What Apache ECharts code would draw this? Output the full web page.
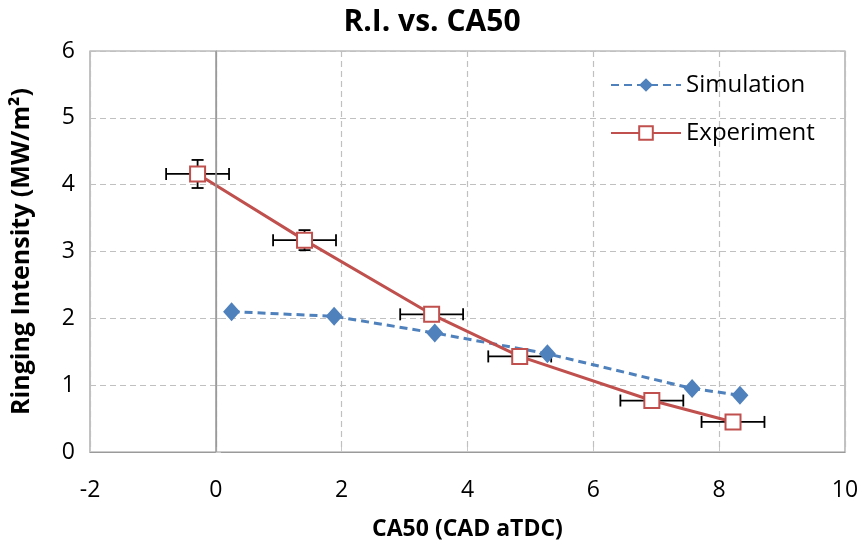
<!DOCTYPE html>
<html><head><meta charset="utf-8">
<script src="https://cdn.jsdelivr.net/npm/echarts@6/dist/echarts.min.js"></script>
<style>html,body{margin:0;padding:0;background:#fff}#c{width:864px;height:550px}</style>
</head><body><div id="c"></div>
<script>
var simX = [0.25, 1.88, 3.48, 5.27, 7.57, 8.33];
var simY = [2.10, 2.03, 1.78, 1.47, 0.95, 0.85];
var expX = [-0.29, 1.41, 3.43, 4.83, 6.93, 8.22];
var expY = [4.16, 3.17, 2.06, 1.43, 0.77, 0.45];
var expXErr = [0.5, 0.5, 0.5, 0.5, 0.5, 0.5];
var expYErr = [0.21, 0.15, 0.06, 0.06, 0.06, 0.06];
var xTicks = [-2, 0, 2, 4, 6, 8, 10];
var yTicks = [0, 1, 2, 3, 4, 5, 6];

var FONT = '"Open Sans", Lato, sans-serif';
var chart = echarts.init(document.getElementById('c'));
var errData = expX.map(function (x, i) { return [x, expY[i], expXErr[i], expYErr[i]]; });

function renderErr(params, api) {
  var x = api.value(0), y = api.value(1), ex = api.value(2), ey = api.value(3);
  var c = api.coord([x, y]);
  var l = api.coord([x - ex, y]), r = api.coord([x + ex, y]);
  var t = api.coord([x, y + ey]), b = api.coord([x, y - ey]);
  var cap = 6;
  var st = { stroke: '#000', lineWidth: 1.8 };
  return { type: 'group', children: [
    { type: 'line', shape: { x1: l[0], y1: c[1], x2: r[0], y2: c[1] }, style: st },
    { type: 'line', shape: { x1: l[0], y1: c[1] - cap, x2: l[0], y2: c[1] + cap }, style: st },
    { type: 'line', shape: { x1: r[0], y1: c[1] - cap, x2: r[0], y2: c[1] + cap }, style: st },
    { type: 'line', shape: { x1: c[0], y1: t[1], x2: c[0], y2: b[1] }, style: st },
    { type: 'line', shape: { x1: c[0] - cap, y1: t[1], x2: c[0] + cap, y2: t[1] }, style: st },
    { type: 'line', shape: { x1: c[0] - cap, y1: b[1], x2: c[0] + cap, y2: b[1] }, style: st }
  ]};
}

chart.setOption({
  animation: false,
  title: { text: 'R.I. vs. CA50', left: 'center', top: 2,
    textStyle: { fontFamily: FONT, fontWeight: 'bold', fontSize: 30, color: '#000' } },
  grid: { left: 90, right: 19, top: 51, bottom: 98, show: true, borderColor: '#9a9a9a', borderWidth: 1.2 },
  legend: {
    orient: 'vertical', left: 605, top: 68, itemGap: 24, itemWidth: 70, itemHeight: 17,
    textStyle: { fontFamily: FONT, fontSize: 24, color: '#000' },
    data: ['Simulation', 'Experiment']
  },
  xAxis: {
    type: 'value', min: -2, max: 10, interval: 2,
    name: 'CA50 (CAD aTDC)', nameLocation: 'middle', nameGap: 66,
    nameTextStyle: { fontFamily: FONT, fontWeight: 'bold', fontSize: 23, color: '#000' },
    axisLine: { show: true, onZero: false, lineStyle: { color: '#9a9a9a', width: 1.2 } },
    axisTick: { show: true, inside: true, length: 5, lineStyle: { color: '#c8c8c8' } },
    axisLabel: { fontFamily: FONT, fontSize: 23, color: '#000', margin: 27,
      formatter: function (v) { return xTicks.indexOf(v) >= 0 ? String(v) : ''; } },
    splitLine: { show: true, lineStyle: { color: '#c0c0c0', type: [6, 4], width: 1.2 } }
  },
  yAxis: {
    type: 'value', min: 0, max: 6, interval: 1,
    name: 'Ringing Intensity (MW/m²)', nameLocation: 'middle', nameGap: 56,
    nameTextStyle: { fontFamily: FONT, fontWeight: 'bold', fontSize: 25, color: '#000' },
    axisLine: { show: true, lineStyle: { color: '#9a9a9a', width: 1.2 } },
    axisTick: { show: true, inside: true, length: 5, lineStyle: { color: '#c8c8c8' } },
    axisLabel: { fontFamily: FONT, fontSize: 23, color: '#000', margin: 15,
      formatter: function (v) { return yTicks.indexOf(v) >= 0 ? String(v) : ''; } },
    splitLine: { show: true, lineStyle: { color: '#c0c0c0', type: [6, 4], width: 1.2 } }
  },
  series: [
    {
      name: 'zeroLine', type: 'line', data: [], silent: true,
      markLine: { silent: true, symbol: 'none', label: { show: false },
        lineStyle: { color: '#9a9a9a', type: 'solid', width: 1.5 },
        data: [{ xAxis: 0 }] }
    },
    {
      name: 'err', type: 'custom', renderItem: renderErr, data: errData, z: 1,
      encode: { x: 0, y: 1 }, silent: true
    },
    {
      name: 'Simulation', type: 'line', z: 3,
      data: simX.map(function (x, i) { return [x, simY[i]]; }),
      symbol: 'diamond', symbolSize: [17, 19],
      itemStyle: { color: '#4F81BD' },
      lineStyle: { color: '#4F81BD', width: 3, type: [8, 5] }
    },
    {
      name: 'Experiment', type: 'line', z: 4,
      data: expX.map(function (x, i) { return [x, expY[i]]; }),
      symbol: 'rect', symbolSize: 15, showAllSymbol: true,
      itemStyle: { color: '#fff', borderColor: '#C0504D', borderWidth: 2 },
      lineStyle: { color: '#C0504D', width: 3 }
    }
  ]
});
</script></body></html>
